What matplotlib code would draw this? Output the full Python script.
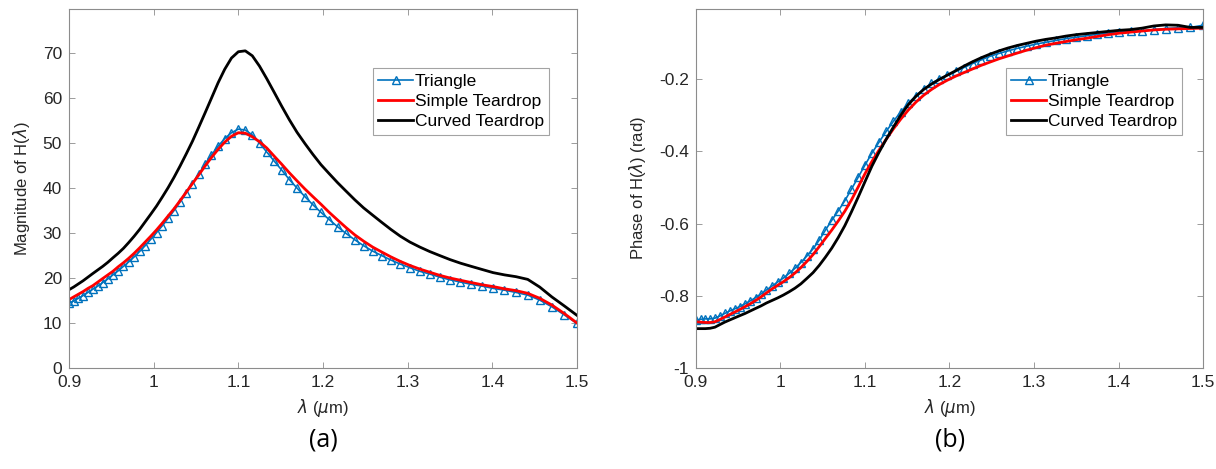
import numpy as np
import matplotlib.pyplot as plt

# wavelength samples (um), uniform in frequency
wl = [0.9000, 0.9055, 0.9111, 0.9167, 0.9224, 0.9281, 0.9340, 0.9399, 0.9459, 0.9519,
      0.9581, 0.9643, 0.9706, 0.9770, 0.9834, 0.9900, 0.9966, 1.0034, 1.0102, 1.0171,
      1.0241, 1.0312, 1.0385, 1.0458, 1.0532, 1.0607, 1.0683, 1.0761, 1.0839, 1.0919,
      1.1000, 1.1082, 1.1165, 1.1250, 1.1336, 1.1423, 1.1512, 1.1602, 1.1693, 1.1786,
      1.1880, 1.1976, 1.2073, 1.2172, 1.2273, 1.2375, 1.2479, 1.2585, 1.2692, 1.2802,
      1.2913, 1.3026, 1.3142, 1.3259, 1.3378, 1.3500, 1.3624, 1.3750, 1.3879, 1.4009,
      1.4143, 1.4279, 1.4418, 1.4559, 1.4703, 1.4850, 1.5000]

# magnitude of H
mag_triangle = [14.4, 14.9, 15.5, 16.1, 16.8, 17.5, 18.2, 19.0, 19.8, 20.7,
                21.6, 22.6, 23.6, 24.7, 25.9, 27.2, 28.6, 30.1, 31.6, 33.3,
                35.0, 36.9, 38.9, 41.0, 43.1, 45.3, 47.4, 49.3, 51.0, 52.3,
                53.1, 52.9, 51.8, 50.0, 48.0, 46.0, 44.0, 41.9, 40.0, 38.1,
                36.3, 34.6, 33.0, 31.4, 29.9, 28.5, 27.2, 26.0, 25.0, 24.0,
                23.1, 22.3, 21.5, 20.9, 20.2, 19.6, 19.1, 18.6, 18.2, 17.7,
                17.3, 16.8, 16.2, 15.1, 13.6, 11.8, 9.9]
mag_simple = [15.2, 15.8, 16.4, 17.0, 17.7, 18.3, 19.1, 19.9, 20.7, 21.5,
              22.5, 23.4, 24.4, 25.5, 26.7, 28.0, 29.3, 30.7, 32.2, 33.8,
              35.4, 37.2, 39.1, 41.0, 42.9, 44.9, 46.8, 48.6, 50.2, 51.5,
              52.3, 52.2, 51.4, 50.3, 48.9, 47.1, 45.3, 43.4, 41.6, 39.8,
              38.1, 36.4, 34.6, 32.9, 31.2, 29.6, 28.2, 26.9, 25.8, 24.7,
              23.7, 22.8, 22.0, 21.3, 20.6, 20.0, 19.5, 19.0, 18.5, 18.1,
              17.6, 17.2, 16.6, 15.5, 14.0, 12.1, 10.0]
mag_curved = [17.4, 18.0, 18.7, 19.4, 20.2, 21.0, 21.8, 22.6, 23.5, 24.5,
              25.5, 26.6, 27.9, 29.3, 30.8, 32.5, 34.2, 36.0, 38.0, 40.1,
              42.4, 44.9, 47.6, 50.4, 53.5, 56.7, 60.0, 63.4, 66.4, 68.9,
              70.3, 70.5, 69.4, 67.1, 64.3, 61.3, 58.2, 55.2, 52.4, 49.9,
              47.5, 45.2, 43.2, 41.2, 39.3, 37.4, 35.6, 34.0, 32.4, 30.8,
              29.3, 28.0, 26.9, 25.9, 25.0, 24.1, 23.3, 22.6, 21.9, 21.2,
              20.7, 20.3, 19.7, 18.0, 15.8, 13.8, 11.7]

# phase of H (rad)
ph_triangle = [-0.868, -0.865, -0.864, -0.864, -0.862, -0.856, -0.849, -0.842, -0.836, -0.830,
               -0.822, -0.814, -0.805, -0.795, -0.784, -0.773, -0.762, -0.751, -0.738, -0.724,
               -0.708, -0.690, -0.670, -0.646, -0.618, -0.591, -0.565, -0.537, -0.505, -0.472,
               -0.438, -0.405, -0.375, -0.345, -0.317, -0.291, -0.267, -0.246, -0.228, -0.212,
               -0.199, -0.189, -0.179, -0.168, -0.157, -0.147, -0.137, -0.129, -0.122, -0.115,
               -0.109, -0.103, -0.098, -0.093, -0.088, -0.084, -0.080, -0.076, -0.073, -0.070,
               -0.068, -0.066, -0.063, -0.060, -0.058, -0.057, -0.051]
ph_simple = [-0.872, -0.873, -0.874, -0.874, -0.872, -0.866, -0.859, -0.852, -0.845, -0.838,
             -0.830, -0.822, -0.813, -0.803, -0.792, -0.781, -0.771, -0.761, -0.750, -0.737,
             -0.722, -0.705, -0.686, -0.664, -0.641, -0.618, -0.593, -0.566, -0.535, -0.499,
             -0.462, -0.428, -0.397, -0.367, -0.338, -0.311, -0.286, -0.264, -0.245, -0.229,
             -0.215, -0.203, -0.192, -0.182, -0.172, -0.162, -0.153, -0.144, -0.136, -0.128,
             -0.120, -0.113, -0.106, -0.101, -0.096, -0.091, -0.087, -0.082, -0.077, -0.073,
             -0.070, -0.067, -0.064, -0.062, -0.061, -0.060, -0.059]
ph_curved = [-0.891, -0.891, -0.891, -0.890, -0.887, -0.880, -0.873, -0.867, -0.861, -0.855,
             -0.849, -0.842, -0.835, -0.828, -0.820, -0.813, -0.806, -0.798, -0.789, -0.779,
             -0.767, -0.752, -0.736, -0.716, -0.693, -0.668, -0.639, -0.606, -0.568, -0.527,
             -0.484, -0.441, -0.403, -0.367, -0.333, -0.300, -0.271, -0.248, -0.229, -0.214,
             -0.201, -0.189, -0.177, -0.164, -0.152, -0.141, -0.131, -0.122, -0.114, -0.107,
             -0.101, -0.095, -0.090, -0.086, -0.081, -0.077, -0.074, -0.071, -0.068, -0.065,
             -0.063, -0.059, -0.053, -0.050, -0.051, -0.057, -0.057]

labels = ['Triangle', 'Simple Teardrop', 'Curved Teardrop']
xticks = [0.9, 1, 1.1, 1.2, 1.3, 1.4, 1.5]
xticklabels = ['0.9', '1', '1.1', '1.2', '1.3', '1.4', '1.5']

plt.rcParams['font.family'] = ['Liberation Sans', 'DejaVu Sans']
plt.rcParams['mathtext.fontset'] = 'dejavusans'

txt = '#262626'
frame = '#8c8c8c'
blue = '#0072BD'

fig = plt.figure(figsize=(12.16, 4.69), dpi=100)
ax1 = fig.add_axes([69 / 1216, 101 / 469, 508 / 1216, 359 / 469])
ax2 = fig.add_axes([696 / 1216, 101 / 469, 507 / 1216, 359 / 469])


def style(ax):
    for s in ax.spines.values():
        s.set_color(frame)
        s.set_linewidth(0.8)
    ax.tick_params(direction='in', top=True, right=True, length=4, width=0.6,
                   color=frame, labelcolor=txt, labelsize=12.5, pad=5)
    ax.set_xlim(0.9, 1.5)
    ax.set_xticks(xticks)
    ax.set_xticklabels(xticklabels)
    ax.set_xlabel(r'$\lambda$ ($\mu$m)', fontsize=12, color=txt, labelpad=5)


def draw(ax, tri, simple, curved):
    ax.plot(wl, tri, color=blue, lw=1.2, marker='^', ms=5.5, mfc='none',
            mec=blue, mew=1.0, label=labels[0])
    ax.plot(wl, simple, color='#ff0000', lw=2, label=labels[1])
    ax.plot(wl, curved, color='black', lw=2, label=labels[2])


draw(ax1, mag_triangle, mag_simple, mag_curved)
style(ax1)
ax1.set_ylim(0, 79.8)
ax1.set_yticks(range(0, 71, 10))
ax1.set_ylabel(r'Magnitude of H($\lambda$)', fontsize=12, color=txt, labelpad=8)

draw(ax2, ph_triangle, ph_simple, ph_curved)
style(ax2)
ax2.set_ylim(-1, -0.006)
ax2.set_yticks([-1, -0.8, -0.6, -0.4, -0.2])
ax2.set_yticklabels(['-1', '-0.8', '-0.6', '-0.4', '-0.2'])
ax2.set_ylabel(r'Phase of H($\lambda$) (rad)', fontsize=12, color=txt, labelpad=8)

for ax, xa in ((ax1, 0.945), (ax2, 0.959)):
    leg = ax.legend(loc='upper right', bbox_to_anchor=(xa, 0.835), fontsize=12.5,
                    frameon=True, fancybox=False, handlelength=2.0,
                    handletextpad=0.1, labelspacing=0.3, borderpad=0.3,
                    borderaxespad=0)
    leg.get_frame().set_edgecolor(frame)
    leg.get_frame().set_linewidth(0.8)
    for t in leg.get_texts():
        t.set_color('black')

fig.text(323 / 1216, 1 - 440 / 469, '(a)', ha='center', va='center',
         fontsize=18, family=['Open Sans', 'DejaVu Sans'])
fig.text(950 / 1216, 1 - 440 / 469, '(b)', ha='center', va='center',
         fontsize=18, family=['Open Sans', 'DejaVu Sans'])

fig.savefig('out.png', dpi=100)
